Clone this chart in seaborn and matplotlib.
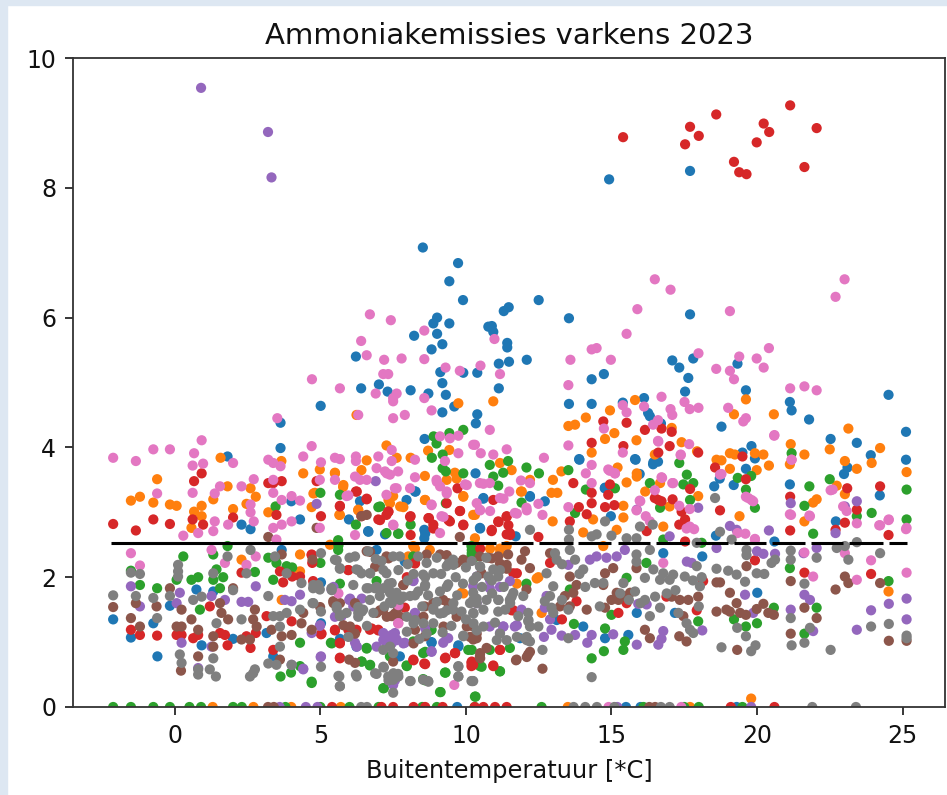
import numpy as np
import pandas as pd
import seaborn as sns
import matplotlib
matplotlib.use("Agg")
import matplotlib.pyplot as plt
from matplotlib.patches import Rectangle

# (temperature, emission) per stal
blue = [(8.52,7.08),(9.73,6.84),(9.43,6.56),(9.90,6.27),(12.50,6.27),(11.47,6.16),(11.30,6.10),(13.54,5.99),(9.01,6.0),(8.88,5.91),
(9.43,5.91),(10.89,5.87),(10.77,5.86),(10.94,5.78),(8.22,5.72),(9.01,5.75),(9.19,5.59),(11.42,5.61),(11.42,5.54),(8.82,5.51),
(6.22,5.40),(12.09,5.35),(11.48,5.32),(11.13,5.29),(9.12,5.16),(9.91,5.15),(10.39,5.15),(14.32,5.05),(14.74,5.13),(9.19,4.99),
(7.01,4.97),(6.40,4.91),(7.31,4.86),(8.10,4.88),(11.13,4.91),(8.71,4.83),(9.31,4.81),(5.01,4.64),(13.54,4.67),(14.32,4.67),
(9.60,4.63),(9.19,4.54),(10.39,4.51),(10.34,4.37),(8.58,4.13),(13.90,3.81),(14.92,8.13),(17.70,8.26),(17.70,6.05),(17.09,5.34),
(17.33,5.23),(17.81,5.37),(19.33,5.29),(17.64,5.07),(17.53,4.86),(19.62,4.88),(24.52,4.81),(16.12,4.76),(15.39,4.69),(16.26,4.53),
(16.32,4.48),(16.7,4.37),(18.78,4.32),(21.13,4.70),(21.19,4.57),(21.79,4.43),(22.53,4.13),(23.43,4.07),(25.12,4.24),(25.12,3.81),
(23.91,3.88),(23.11,3.69),(22.99,3.59),(19.81,4.02),(19.5,3.92),(19.93,3.83),(19.62,3.67),(18.72,3.52),(18.53,3.40),(19.2,3.42),
(16.43,3.74),(16.6,3.78),(15.83,3.81),(15.97,3.59),(14.77,3.37),(21.13,3.43),(24.22,3.26),(22.71,2.86),(14.98,2.94),(18.59,2.64),
(20.6,2.55),(1.81,3.86),(3.63,4.38),(3.63,3.99),(4.30,2.89),(2.29,2.81),(2.6,2.74),(4.0,3.17),(5.98,2.89),(6.64,2.71),
(6.36,3.17),(7.96,3.19),(8.27,3.32),(8.57,2.73),(8.57,2.6),(7.22,2.66),(6.93,2.42),(10.33,3.6),(-2.12,1.35),(-1.51,1.07),
(-0.74,1.29),(-0.17,1.56),(-0.6,0.78),(0.92,0.95),(0.74,1.81),(2.0,1.05),(1.32,1.78),(3.15,1.14),(3.38,0.78),(3.67,2.42),
(5.02,1.92),(5.02,1.29),(5.67,1.05),(7.9,2.24),(9.74,0.95),(8.82,0.99),(7.73,0.78),(6.24,0.93),(11.71,2.63),(10.48,2.76),
(20.01,1.76),(18.12,2.32),(16.78,2.37),(14.03,1.24),(14.78,1.06),(15.58,1.11),(15.87,1.45),(17.18,1.45),(13.12,1.34),(11.86,1.06),
(12.71,3.17),(12.2,3.25),(10.6,3.22),(13.89,3.82),(14.78,3.38),(15.81,3.82),(16.44,3.77),
(8.82,1.0),(9.74,0.93),(8.25,3.32),(12.2,3.24),(4.99,1.9),(10.6,3.21),(10.49,2.75),(6.65,2.7),(8.6,2.67)]

orange = [(-0.61,3.51),(-1.51,3.18),(-1.2,3.24),(-0.74,3.15),(-0.17,3.12),(0.06,3.10),(1.57,3.84),(1.81,3.40),(1.32,3.2),(0.92,3.1),
(0.66,3.01),(0.92,2.94),(0.57,2.76),(2.0,3.05),(2.6,3.37),(2.78,3.24),(2.46,3.13),(3.66,3.79),(4.41,3.6),(3.21,3.0),
(4.7,3.08),(4.81,3.3),(4.98,3.66),(5.5,3.61),(5.65,2.96),(5.78,3.39),(6.24,4.5),(6.3,3.04),(6.41,3.65),(6.59,3.8),
(7.27,4.03),(7.62,3.84),(8.1,3.84),(7.5,3.25),(7.85,3.08),(8.59,3.56),(8.7,3.95),(9.43,3.96),(8.59,3.19),(9.62,3.61),
(9.91,3.25),(10.25,2.96),(9.74,4.68),(4.3,2.35),(2.29,2.27),(4.3,2.09),(5.33,2.5),(8.19,2.48),(8.02,2.32),(8.76,2.42),
(9.85,1.76),(3.67,1.65),(10.94,4.71),(14.95,4.57),(14.12,4.46),(13.52,4.33),(13.75,4.35),(14.78,4.13),(15.1,4.22),(14.32,3.92),
(15.86,4.11),(15.81,4.73),(17.41,4.08),(17.07,4.3),(17.94,3.94),(16.49,3.89),(18.61,3.81),(18.78,3.8),(19.07,3.91),(19.24,3.89),
(19.21,4.51),(19.62,4.74),(20.58,4.51),(19.93,3.91),(20.22,3.89),(20.41,3.72),(19.99,3.65),(19.07,3.67),(21.16,4.05),(21.13,3.74),
(21.63,3.89),(22.5,3.97),(23.14,4.29),(23.02,3.79),(23.43,3.67),(23.94,3.76),(24.23,3.99),(25.14,3.62),(22.74,3.41),(23.02,3.28),
(22.05,3.2),(21.93,3.15),(21.63,2.86),(19.4,2.94),(12.99,3.5),(13.28,3.63),(12.94,3.3),(13.14,3.3),(12.98,2.86),(11.89,3.32),
(12.2,3.5),(11.17,3.76),(11.57,3.65),(15.21,3.69),(15.52,3.46),(15.87,3.6),(15.87,3.55),(16.16,3.32),(16.67,3.45),(15.41,3.1),
(15.41,2.92),(14.37,2.89),(14.03,2.69),(17.98,3.25),(14.72,2.48),(15.18,2.73),(16.78,2.78),(24.52,1.78),(19.8,0.13),(12.49,2.0),
(12.6,1.45),(17.0,3.09),(11.17,2.37),(11.4,2.48),(10.31,2.6),
(4.76,3.29),(5.79,3.42),(7.39,3.14),(7.74,3.09),(7.34,3.19),(8.6,3.19),(9.34,3.5),(9.68,3.52),(9.91,3.24),(10.31,2.96),
(5.5,3.6),(6.3,3.03),(5.67,2.96),(11.17,2.44),(10.83,2.44),(11.92,3.32),(8.25,2.44),(9.91,1.75),(12.43,1.98),(11.75,1.9)]

green = [(5.0,3.3),(3.46,3.09),(5.67,3.27),(6.22,2.81),(6.99,3.08),(8.1,2.81),(7.27,2.68),(7.67,2.67),(5.61,2.57),(5.61,2.42),
(9.91,3.6),(8.83,3.84),(8.89,4.17),(8.99,4.06),(9.43,4.22),(9.91,4.27),(9.2,3.89),(9.2,3.68),(9.31,3.63),(9.31,3.14),
(10.19,2.48),(10.19,2.32),(1.81,2.48),(0.29,2.32),(1.32,2.35),(-1.51,2.1),(-1.2,1.88),(-0.61,1.83),(0.06,1.96),(0.57,1.96),
(0.8,2.0),(1.55,1.83),(1.43,2.12),(1.66,2.0),(0.86,1.5),(1.32,1.96),(2.75,2.08),(3.21,2.3),(3.49,2.22),(3.38,1.96),
(3.84,2.17),(4.03,2.15),(5.0,2.22),(5.67,1.9),(6.93,1.94),(8.19,2.32),(8.82,1.19),(4.3,0.99),(3.63,0.47),(3.99,0.53),
(4.3,0.63),(4.7,0.37),(5.36,0.99),(6.59,0.91),(6.41,0.7),(6.7,0.64),(7.96,0.64),(7.18,0.29),(9.13,0.23),(10.33,0.16),
(9.3,0.53),(10.08,0.88),(8.53,0.43),(7.39,0.78),(8.53,0.83),(8.19,1.01),(10.82,3.73),(11.45,3.79),(12.08,3.69),(12.51,3.6),
(13.52,3.65),(11.28,3.61),(10.94,3.55),(11.11,3.41),(11.91,3.15),(14.12,3.35),(15.12,3.37),(13.75,2.99),(16.32,3.45),(17.33,3.76),
(17.59,3.58),(17.47,3.43),(17.81,3.45),(17.7,3.19),(16.67,3.07),(19.93,3.07),(19.34,3.53),(19.62,3.35),(19.8,3.56),(21.19,3.91),
(21.8,3.4),(21.63,3.1),(21.93,2.67),(22.5,3.51),(23.43,2.94),(23.94,2.99),(25.14,3.35),(25.14,2.89),(24.52,1.94),(21.13,2.14),
(22.05,1.53),(21.63,1.13),(20.58,1.53),(20.0,1.29),(19.62,1.24),(19.21,1.35),(17.98,1.32),(14.78,1.21),(13.71,1.28),(15.0,1.42),
(14.74,0.86),(14.32,0.75),(15.41,0.88),(15.46,1.01),(11.51,0.91),(11.17,0.55),(10.48,0.63),(10.31,0.16),(10.82,0.88),(12.08,1.9),
(16.78,2.58),(18.1,2.53),(15.52,1.99),(16.2,2.22),(13.57,1.81),(10.25,2.37),(10.2,2.42),
(5.62,2.49),(7.05,3.09),(7.68,2.67),(10.2,2.37),(10.26,2.29),(8.77,1.18),(8.6,0.85),(6.71,0.65),(6.42,0.7),(7.97,0.63),
(9.28,0.53),(8.6,0.41),(7.16,0.29),(9.11,0.23),(10.2,0.88),(10.54,0.62),(11.17,0.55),(5.39,0.98),(6.59,0.9),(4.7,0.39)]

red = [(15.4,8.78),(17.53,8.67),(17.7,8.94),(18.0,8.8),(18.6,9.13),(19.21,8.40),(19.39,8.24),(19.64,8.21),(19.99,8.7),(20.23,8.99),
(20.42,8.86),(21.14,9.27),(21.63,8.32),(22.05,8.92),(-2.12,2.82),(-1.34,2.72),(-0.74,2.89),(-0.17,2.82),(0.66,3.48),(0.92,3.6),
(0.61,2.89),(0.97,2.81),(2.0,2.92),(3.21,3.45),(3.38,3.45),(3.67,3.48),(3.49,2.96),(4.87,3.48),(5.02,2.94),(5.67,3.1),
(6.22,3.32),(6.59,3.21),(6.41,2.94),(6.99,2.89),(7.27,2.96),(8.1,2.94),(8.1,2.65),(8.73,2.91),(8.88,2.81),(9.34,3.14),
(9.45,2.86),(9.79,3.02),(9.71,3.37),(9.91,2.81),(7.33,3.01),(4.7,2.35),(4.72,2.22),(8.25,2.22),(5.96,2.11),(2.29,2.07),
(3.61,2.09),(3.72,1.92),(4.03,2.01),(4.3,2.01),(4.75,1.94),(3.15,1.4),(1.2,1.55),(-1.51,1.19),(-1.2,1.11),(-0.61,1.1),
(0.06,1.11),(0.23,1.11),(0.63,1.06),(0.8,1.11),(1.55,1.14),(1.72,1.11),(1.81,0.95),(2.46,1.09),(2.6,0.91),(2.78,1.14),
(4.01,1.32),(3.38,0.88),(5.02,1.12),(5.5,1.19),(5.96,1.19),(6.24,1.19),(5.67,0.76),(5.67,0.99),(6.7,1.19),(6.99,1.19),
(8.19,0.73),(8.57,0.67),(9.3,0.76),(9.62,0.83),(10.19,0.68),(7.9,1.53),(10.19,0.63),(14.72,4.4),(15.52,4.38),(16.15,4.27),
(16.72,4.29),(17.07,4.24),(14.32,4.07),(15.41,4.02),(17.0,4.02),(16.61,3.92),(17.98,3.92),(18.56,3.69),(19.5,3.86),(19.62,3.51),
(13.69,3.45),(14.32,3.3),(14.95,3.43),(14.89,3.27),(14.32,3.14),(14.78,3.08),(15.1,3.11),(13.88,3.08),(14.15,2.97),(13.57,2.86),
(16.49,3.22),(16.61,3.19),(16.72,3.17),(17.1,3.2),(17.7,3.36),(17.41,3.01),(17.53,2.89),(17.33,2.81),(18.73,3.03),(21.14,3.24),
(21.14,2.72),(23.1,3.37),(23.02,2.84),(22.7,2.73),(23.43,3.04),(24.23,3.4),(24.52,2.65),(10.88,2.71),(11.11,2.86),(11.4,2.94),
(12.49,2.62),(11.4,2.66),(11.51,2.68),(10.94,3.19),(17.53,2.55),(16.21,2.71),(19.93,2.26),(21.63,2.07),(23.92,2.05),(12.89,2.22),
(11.63,2.06),(13.3,1.35),(11.57,1.49),(10.94,0.64),(15.24,1.45),(10.25,0.65),(11.17,0.88),(18.15,1.94),(17.93,1.49),(13.8,1.63),
(16.89,1.7),(15.52,1.6),
(5.67,3.09),(6.59,3.2),(6.25,3.32),(7.05,2.88),(7.34,3.01),(8.08,2.93),(8.71,2.91),(8.88,2.75),(9.4,2.88),(9.8,3.02),
(9.91,2.8),(11.12,2.85),(10.89,2.73),(11.4,2.93),(11.46,2.8),(11.52,2.65),(10.49,2.44),(8.25,2.21),(5.96,2.11),(4.7,2.34),
(11.75,2.06),(5.67,0.75),(8.2,0.72),(8.6,0.66),(9.28,0.75),(9.63,0.83),(10.2,0.7),(10.94,0.63),(11.17,0.88),(5.5,1.18),
(5.67,0.98),(6.76,1.21),(6.99,1.18),(5.04,1.13),(7.97,2.0),(11.63,1.49)]

purple = [(0.9,9.54),(3.2,8.86),(3.32,8.16),(4.87,3.13),(6.9,3.48),(-1.51,1.86),(-1.2,1.55),(0.17,1.76),(0.06,1.6),(1.26,1.71),
(1.72,1.65),(2.29,1.62),(2.52,1.62),(2.78,1.86),(3.78,1.65),(4.01,1.63),(4.3,1.73),(0.23,0.99),(1.26,0.93),(4.98,1.25),
(4.7,1.14),(5.02,0.78),(4.41,0.59),(4.01,0.65),(0.8,0.6),(5.38,1.81),(5.99,1.65),(6.13,1.55),(5.73,1.4),(6.19,0.99),
(6.93,0.93),(7.16,1.14),(7.33,1.06),(7.45,1.11),(7.62,1.04),(7.22,1.04),(7.39,0.96),(7.9,0.99),(8.19,1.94),(8.25,1.45),
(8.82,0.86),(7.5,0.34),(9.39,1.06),(9.22,0.99),(10.37,2.01),(10.25,1.86),(7.56,1.14),(11.51,1.94),(10.82,1.83),(11.91,1.5),
(11.28,1.24),(11.68,1.24),(10.82,1.24),(11.17,1.14),(12.77,1.71),(12.71,1.53),(12.89,1.35),(12.94,1.19),(12.68,1.08),(13.29,1.1),
(13.75,1.11),(14.32,1.11),(14.17,0.99),(15.06,1.12),(15.87,0.96),(16.78,1.17),(16.61,0.96),(16.72,1.05),(18.12,1.18),(15.92,1.59),
(16.21,1.58),(14.26,2.27),(14.49,2.32),(14.83,2.3),(15.18,2.32),(15.46,2.42),(13.52,2.19),(17.59,2.24),(17.76,2.22),(17.0,2.63),
(17.98,3.07),(15.87,3.04),(18.61,2.45),(19.07,2.79),(19.3,2.73),(20.41,2.72),(20.0,2.4),(20.22,2.36),(20.62,2.36),(19.59,1.73),
(21.16,3.14),(22.05,2.45),(21.63,1.73),(21.82,1.65),(21.16,1.5),(21.93,1.17),(22.7,2.68),(23.02,3.09),(23.43,3.17),(23.43,1.19),
(23.92,1.49),(24.53,1.59),(25.14,1.67),(25.14,1.35),(21.6,2.37),(19.87,1.45),
(7.28,1.08),(7.45,0.98),(7.16,1.03),(7.62,1.03),(7.85,0.98),(6.25,0.93),(7.56,0.41),(5.45,1.85),(5.5,1.39),(6.02,1.67),
(6.42,1.67),(8.2,1.95),(8.25,1.44),(8.6,1.21),(9.34,1.06),(8.82,0.85),(10.83,1.95),(11.17,1.85),(10.37,1.6),(11.75,1.26),
(11.29,1.24),(4.99,1.26),(5.01,0.77),(4.41,0.58)]

brown = [(-2.12,1.54),(-1.51,1.37),(-1.34,1.6),(-1.2,1.24),(-0.63,1.55),(-0.17,1.83),(0.23,1.5),(0.06,1.24),(0.23,1.24),(0.57,1.35),
(0.8,1.19),(0.8,0.78),(0.21,0.56),(1.32,1.09),(1.32,0.93),(1.55,1.6),(1.6,1.45),(1.83,1.35),(2.0,1.83),(2.29,1.04),
(2.58,1.04),(2.75,1.5),(2.69,1.35),(2.81,1.24),(3.21,2.62),(3.67,2.35),(3.32,1.19),(3.67,1.09),(4.01,1.11),(4.35,1.29),
(4.41,1.45),(3.61,0.73),(4.7,1.19),(4.73,2.27),(4.87,2.76),(5.44,1.63),(5.67,1.6),(6.19,1.6),(5.99,0.73),(6.19,0.68),
(6.59,2.96),(6.41,2.94),(6.59,2.4),(6.93,2.17),(7.85,1.88),(7.27,2.32),(7.16,1.5),(7.45,1.4),(7.67,1.53),(6.93,1.45),
(7.5,0.7),(8.25,1.19),(8.59,1.09),(8.59,1.55),(8.88,1.6),(9.22,1.65),(9.39,1.6),(9.68,1.45),(9.79,2.62),(8.65,2.35),
(9.11,2.35),(9.91,2.27),(10.25,1.24),(10.25,1.04),(9.68,2.22),(10.48,2.32),(10.77,2.3),(11.11,2.32),(11.4,2.19),(11.45,2.35),
(12.03,2.4),(12.2,2.14),(11.91,2.27),(12.08,1.81),(12.14,0.81),(11.74,0.73),(12.63,0.59),(10.48,0.78),(10.71,0.91),(10.37,1.06),
(12.89,2.37),(13.57,2.01),(13.4,1.71),(13.69,1.76),(13.8,1.88),(14.15,1.5),(13.23,1.55),(13.57,1.55),(14.78,2.06),(15.06,2.14),
(14.72,1.88),(14.78,1.53),(15.0,1.65),(15.18,1.76),(15.41,1.71),(15.64,1.76),(15.24,1.65),(15.86,2.14),(16.15,1.19),(16.32,1.06),
(17.07,1.7),(17.35,1.65),(17.64,1.65),(17.98,1.7),(17.47,1.4),(17.33,1.09),(17.58,1.01),(18.61,1.92),(18.73,1.92),(18.61,1.47),
(19.07,1.76),(19.3,1.6),(19.07,1.47),(18.95,1.5),(19.42,1.45),(19.62,1.42),(19.64,2.17),(19.32,0.88),(19.99,1.51),(20.22,1.59),
(20.39,1.45),(20.58,1.42),(21.16,1.94),(21.16,1.13),(21.63,1.53),(22.05,1.37),(22.7,1.81),(23.02,2.01),(23.14,1.91),(24.23,1.91),
(24.53,1.02),(25.14,1.02),
(7.05,1.49),(7.28,1.39),(7.56,1.44),(6.88,2.16),(7.34,2.29),(7.85,1.88),(7.74,1.39),(6.02,1.24),(5.79,1.26),(6.19,1.13),
(5.45,1.6),(4.99,1.54),(8.2,0.98),(8.54,1.39),(9.23,1.24),(9.68,1.39),(10.03,1.24),(10.14,1.08),(10.37,1.13),(10.54,2.06),
(10.89,2.29),(11.17,2.21),(11.4,2.13),(10.49,0.83),(10.49,0.75),(12.09,0.77),(12.2,0.85),(11.72,0.72),(6.71,2.39),(9.34,2.34),
(9.91,2.26)]

pink = [(6.7,6.05),(7.42,5.96),(8.57,5.8),(6.4,5.64),(6.59,5.42),(7.19,5.35),(7.79,5.37),(8.57,5.36),(9.3,5.23),(9.79,5.18),
(7.16,5.13),(7.33,5.13),(4.71,5.05),(5.67,4.91),(6.9,4.83),(7.62,4.83),(7.5,4.76),(8.57,4.76),(16.49,6.59),(17.03,6.43),
(15.89,6.13),(19.07,6.1),(23.01,6.59),(22.7,6.32),(15.52,5.75),(10.98,5.67),(14.32,5.51),(14.49,5.53),(17.99,5.45),(20.41,5.53),
(19.39,5.4),(19.99,5.37),(20.23,5.23),(13.59,5.35),(14.98,5.35),(18.6,5.21),(19.07,5.18),(19.21,5.05),(10.5,5.26),(11.17,5.13),
(13.52,4.96),(21.14,4.91),(21.63,4.94),(22.05,4.88),(16.72,4.78),(16.12,4.63),(15.52,4.54),(15.39,4.65),(17.03,4.59),(17.09,4.5),
(17.51,4.7),(17.69,4.59),(17.99,4.61),(19.01,4.61),(19.53,4.4),(19.62,4.45),(20.59,4.18),(14.74,4.29),(16.43,4.35),(16.6,4.42),
(16.6,4.1),(17.67,4.05),(17.38,3.88),(15.39,3.92),(14.94,3.64),(15.12,3.6),(16.74,3.53),(17.09,3.45),(16.49,3.34),(21.19,3.81),
(18.78,3.59),(22.53,3.34),(21.13,2.97),(21.82,2.94),(24.2,2.8),(24.52,2.88),(25.12,2.74),(23.43,2.83),(23.08,3.02),(22.96,3.09),
(19.62,3.24),(19.81,3.19),(15.97,3.18),(15.86,3.03),(17.33,3.1),(17.69,3.05),(16.18,2.94),(16.32,2.86),(17.58,2.75),(17.84,2.74),
(17.69,2.78),(19.33,2.68),(19.6,2.67),(19.93,2.59),(-2.12,3.84),(-1.34,3.79),(-0.74,3.97),(-0.17,3.97),(0.92,4.11),(0.66,3.91),
(0.61,3.72),(0.97,3.75),(2.0,3.76),(-0.61,3.29),(0.61,3.3),(2.71,3.51),(2.29,3.4),(1.55,3.4),(1.37,3.29),(3.52,4.45),
(3.21,3.81),(3.38,3.76),(3.63,3.71),(3.38,3.5),(3.38,3.3),(3.67,3.19),(4.01,3.25),(4.3,3.18),(2.6,3.12),(2.6,3.0),
(2.71,2.86),(1.83,2.81),(1.37,2.86),(0.8,2.68),(1.32,2.71),(0.29,2.64),(1.26,2.42),(-1.51,2.37),(-1.2,2.18),(4.01,2.86),
(3.38,2.76),(3.67,2.81),(3.49,2.58),(2.78,2.32),(2.46,2.19),(1.72,2.22),(4.41,3.86),(4.7,4.02),(5.02,3.77),(4.98,3.5),
(5.5,3.5),(5.5,3.84),(5.67,3.82),(6.22,3.86),(6.22,3.79),(6.3,4.5),(7.5,4.45),(7.9,4.5),(8.82,4.57),(7.5,4.71),
(6.19,2.65),(4.98,2.76),(5.9,3.25),(6.19,3.55),(6.59,3.5),(6.99,3.86),(7.45,3.96),(7.45,3.79),(6.93,3.68),(7.22,3.63),
(7.39,3.58),(7.67,3.63),(7.56,3.37),(7.27,3.27),(8.08,3.37),(8.25,3.81),(8.25,3.54),(8.82,3.12),(8.99,3.5),(9.11,3.4),
(9.34,3.32),(9.11,4.17),(9.45,4.14),(9.74,4.18),(10.25,4.04),(9.74,3.91),(9.28,3.79),(9.97,3.43),(10.37,3.14),(7.5,2.81),
(9.16,2.94),(9.11,2.68),(7.67,1.29),(9.6,0.34),(10.82,4.27),(10.31,4.04),(10.51,3.91),(10.94,3.89),(11.4,3.97),(12.68,3.84),
(13.52,4.03),(11.89,3.49),(12.2,3.45),(10.82,3.45),(10.48,3.45),(11.49,3.32),(11.17,3.22),(10.48,3.04),(12.08,3.07),(11.68,2.99),
(12.49,3.13),(12.63,2.96),(13.52,3.08),(14.32,3.73),(14.12,3.6),(14.89,3.66),(15.12,3.6),(14.32,3.45),(15.99,3.17),(16.72,3.54),
(17.12,3.45),(16.61,4.09),(17.38,3.89),(20.6,4.19),(19.7,3.22),(19.87,3.17),(18.73,3.58),(21.19,3.81),(21.63,2.38),(21.93,2.01),
(23.43,1.96),(23.92,2.26),(24.53,2.89),(24.23,2.8),(25.14,2.76),(25.14,2.07),(22.6,3.35),(23.02,2.37),(21.17,2.96),(16.78,2.22),
(21.8,2.95),(19.93,2.58),
(6.36,3.5),(7.28,3.6),(7.62,3.37),(5.96,3.26),(9.0,3.47),(9.34,3.29),(8.82,3.11),(10.03,3.42),(10.6,3.44),(10.49,3.03),
(10.83,3.02),(11.29,3.21),(11.75,2.98),(12.09,3.03),(9.23,2.93),(7.51,2.8),(5.62,1.75),(7.68,1.57),(7.68,1.29)]

gray = [(-2.12,1.72),(-1.51,2.07),(-1.2,2.05),(-1.34,1.71),(-0.74,1.68),(-0.61,1.37),(-0.17,1.71),(0.11,2.19),(0.11,2.09),(0.11,2.01),
(0.63,1.65),(0.92,1.7),(0.8,0.58),(0.8,0.5),(0.17,0.81),(0.23,0.68),(1.32,2.06),(1.32,0.75),(1.2,0.58),(1.41,0.47),
(1.81,2.32),(1.43,1.29),(2.0,1.8),(2.29,1.35),(2.6,2.42),(2.46,2.06),(2.69,0.52),(2.75,0.58),(2.58,0.47),(3.21,1.71),
(3.21,0.67),(3.49,0.65),(3.44,2.32),(3.38,1.4),(3.61,1.4),(3.84,1.45),(3.61,1.24),(3.61,0.93),(4.35,1.91),(3.84,2.06),
(4.3,1.5),(4.01,0.65),(4.75,1.83),(4.98,1.81),(4.73,1.6),(5.02,2.37),(5.02,1.47),(5.02,0.62),(5.65,0.47),(5.67,0.32),
(5.5,2.27),(5.67,2.14),(5.38,1.83),(5.56,1.55),(5.67,1.4),(5.9,1.45),(6.24,2.12),(6.41,2.06),(6.19,2.32),(6.64,2.4),
(6.7,2.06),(6.59,1.83),(6.87,1.83),(6.3,1.45),(6.47,1.5),(6.22,0.5),(6.93,0.51),(7.18,0.61),(7.33,0.47),(7.67,0.51),
(7.5,0.22),(7.5,0.42),(8.1,0.4),(8.7,0.4),(8.53,0.42),(9.74,0.63),(9.74,0.47),(10.19,0.4),(7.27,2.06),(7.45,1.91),
(7.39,1.76),(7.62,1.76),(7.45,1.6),(7.73,1.65),(8.08,1.71),(8.36,1.78),(8.59,1.86),(8.53,2.04),(8.88,2.06),(8.65,2.22),
(9.34,2.17),(9.39,1.89),(9.56,2.27),(8.88,1.5),(9.22,1.45),(9.56,1.5),(9.85,1.47),(10.25,1.76),(10.37,1.6),(7.04,1.71),
(6.82,1.45),(8.36,2.32),(7.73,2.32),(7.5,2.32),(9.91,1.09),(10.37,2.01),(7.5,0.83),(10.25,0.4),(10.48,2.17),(10.77,2.01),
(10.94,2.12),(11.11,2.01),(10.25,1.65),(10.6,1.5),(10.25,1.45),(11.11,1.65),(11.11,1.47),(10.6,1.24),(11.51,1.65),(11.63,1.76),
(11.97,1.71),(12.14,1.45),(12.14,1.32),(12.49,1.24),(12.03,1.06),(12.2,1.01),(12.2,2.73),(12.63,0.88),(12.77,2.06),(13.06,2.37),
(13.12,2.27),(13.0,1.86),(12.89,1.71),(12.71,1.63),(12.94,1.53),(13.54,2.73),(13.54,2.58),(13.57,2.42),(13.75,2.27),(14.03,2.12),
(14.32,2.63),(14.49,2.66),(14.78,2.86),(15.0,2.64),(13.52,1.5),(13.52,1.06),(14.43,1.91),(14.72,1.91),(14.32,0.46),(15.52,2.6),
(15.86,2.6),(15.98,2.78),(16.42,2.81),(15.86,2.35),(15.86,2.24),(16.32,2.42),(16.15,1.99),(16.44,2.12),(16.67,1.96),(16.78,2.06),
(17.0,1.96),(17.52,2.01),(17.12,2.04),(15.41,1.91),(15.81,1.78),(16.15,1.65),(16.67,1.53),(16.32,1.4),(17.3,1.45),(17.58,1.29),
(17.7,1.19),(17.81,1.14),(17.93,2.17),(18.04,1.86),(17.93,2.53),(18.56,3.22),(18.73,2.7),(18.61,2.13),(19.01,2.1),(19.3,2.04),
(19.59,1.93),(19.13,2.58),(19.64,2.42),(19.64,2.34),(19.99,2.06),(20.25,2.05),(20.5,2.22),(20.62,2.27),(18.78,0.92),(19.62,1.09),
(19.8,0.86),(19.95,0.95),(19.32,1.22),(21.16,2.41),(21.16,2.27),(21.16,1.37),(21.19,0.95),(21.63,0.99),(21.63,1.9),(22.05,2.3),
(21.82,1.22),(22.53,0.88),(22.74,2.45),(23.02,2.48),(23.43,2.54),(23.14,2.27),(24.23,2.37),(23.92,1.24),(24.53,1.28),(25.14,1.1),
(25.14,1.06),
(5.56,2.26),(5.67,2.13),(6.3,2.11),(6.71,2.06),(7.16,2.11),(7.68,2.11),(7.34,1.9),(7.39,1.78),(7.39,1.62),(7.56,1.67),
(7.85,1.7),(8.25,1.72),(8.6,2.0),(8.6,1.88),(9.11,1.78),(9.34,1.85),(9.4,2.21),(9.57,2.19),(8.88,1.52),(9.11,1.44),
(9.34,1.49),(9.57,1.6),(10.26,1.95),(10.49,2.16),(11.17,2.11),(10.89,1.95),(11.12,1.65),(10.71,1.65),(10.37,1.67),(10.14,1.6),
(10.26,1.44),(11.57,1.7),(11.52,1.6),(12.15,1.34),(12.2,1.24),(12.09,1.03),(11.17,1.13),(11.4,1.03),(11.06,1.03),(10.26,1.29),
(10.37,1.18),(9.91,1.1),(8.88,1.29),(8.54,1.29),(8.2,1.29),(7.97,1.16),(8.25,1.34),(6.3,1.54),(6.42,1.47),(6.3,1.39),
(5.67,1.42),(5.56,1.52),(4.76,1.88),(4.93,1.88),(4.76,1.6),(5.39,1.8),(6.13,1.88),(6.93,1.85),(6.65,1.83),(7.16,1.83),
(6.88,0.52),(7.16,0.62),(7.51,0.52),(7.68,0.47),(7.34,0.41),(5.62,0.48),(5.67,0.32),(6.25,0.47),(8.08,0.4),(8.71,0.39),
(9.74,0.62),(9.74,0.47),(10.22,0.4),(5.96,1.08),(7.16,0.88),(7.39,0.93),(8.65,1.13),(7.97,1.39),(11.75,1.08),(12.09,1.08),
(13.3,2.2),(13.9,2.05),(14.1,1.85),(16.0,1.6),(16.9,1.75),(17.2,1.8),(18.0,1.55),(17.8,1.95),(18.1,2.0),(15.3,1.75),
(15.6,1.65),(16.5,1.7),(13.0,1.45),(13.3,1.65),(14.6,1.55),
(6.0,2.3),(6.9,2.28),(8.0,2.2),(8.2,2.05),(9.0,2.3),(9.15,2.05),(9.65,2.0),(9.9,1.9),(10.0,2.15),(10.2,2.25),
(10.7,2.3),(8.0,1.95),(7.1,2.25),(7.2,1.55),(6.7,1.65),(8.5,1.55),(8.7,1.72),(9.0,1.62),(9.7,1.72),(10.0,1.35),
(10.55,1.85),(10.9,1.75),(11.35,1.5),(11.8,1.4),(11.0,1.3),(11.3,1.85),(9.5,1.25),(9.2,1.15),(8.4,1.05),(6.6,1.25)]

# readings at exactly 0
zero_blue = [9.7, 15.5, 16.0, 19.3]
zero_orange = [1.3, 2.7, 4.0, 5.7, 13.5, 17.7]
zero_green = [-2.12, -1.51, -0.74, -0.17, 0.5, 0.9, 2.0, 2.3, 3.8, 5.0, 6.0, 7.0, 8.5, 9.0, 10.3, 12.6, 16.1, 17.5, 18.0, 19.5]
zero_red = [5.4, 7.1, 7.5, 8.2, 8.6, 9.2, 10.3, 10.6, 11.0, 11.4, 19.1, 20.6]
zero_purple = [3.6, 4.5, 4.9, 15.2, 19.8]
zero_brown = [3.2, 3.4, 16.3, 16.5]
zero_pink = [14.9, 17.4]
zero_gray = [6.4, 6.6, 13.7, 14.1, 14.5, 15.1, 16.7, 17.0, 21.9, 23.4]

series = {
    "blue": (blue, zero_blue),
    "orange": (orange, zero_orange),
    "green": (green, zero_green),
    "red": (red, zero_red),
    "purple": (purple, zero_purple),
    "brown": (brown, zero_brown),
    "pink": (pink, zero_pink),
    "gray": (gray, zero_gray),
}

# the black line breaks at these temperatures
line_level = 2.52
line_parts = [(-2.2, 9.68), (9.85, 11.05), (11.2, 12.31), (12.51, 13.67), (13.86, 14.98), (15.21, 16.32), (16.52, 17.67),
              (17.87, 19.01), (19.22, 20.31), (20.5, 21.65), (21.85, 22.97), (23.16, 24.34), (24.54, 25.14)]

rows = []
for name, (points, zeros) in series.items():
    rows += [(name, x, y) for x, y in points]
    rows += [(name, x, 0.0) for x in zeros]
df = pd.DataFrame(rows, columns=["stal", "temp", "emissie"])

sns.set_style("ticks")
fig = plt.figure(figsize=(9.47, 7.95), dpi=100, facecolor="white")
ax = fig.add_axes([73 / 947, 1 - 707 / 795, 872 / 947, 649 / 795])

sns.scatterplot(data=df, x="temp", y="emissie", hue="stal", hue_order=list(series),
                palette=sns.color_palette("tab10", 8), s=54, linewidth=0, legend=False, ax=ax)
for start, stop in line_parts:
    sns.lineplot(x=[start, stop], y=[line_level, line_level], color="black", linewidth=2.2,
                 solid_capstyle="butt", ax=ax)

ax.set_xlim(-3.5, 26.46)
ax.set_ylim(0, 10)
ax.set_xticks([0, 5, 10, 15, 20, 25])
ax.set_title("Ammoniakemissies varkens 2023", fontsize=21, pad=10, color="#111111")
ax.set_xlabel("Buitentemperatuur [*C]", fontsize=17.4, labelpad=8, color="#111111")
ax.set_ylabel("")
ax.tick_params(labelsize=17, length=6, width=1.3, pad=6, labelcolor="#111111")
for spine in ax.spines.values():
    spine.set_linewidth(1.3)
    spine.set_color("#333333")

# marble backdrop showing at the edge of the screenshot
fig.add_artist(Rectangle((0, 0), 7 / 947, 1, transform=fig.transFigure, color="#dde7f2", zorder=-5))
fig.add_artist(Rectangle((0, 1 - 5 / 795), 1, 5 / 795, transform=fig.transFigure, color="#dde7f2", zorder=-5))

fig.savefig("out.png", dpi=100)
